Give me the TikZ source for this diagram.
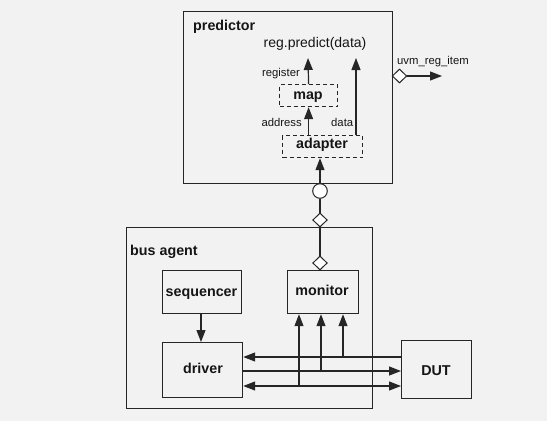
\documentclass[tikz,border=0pt]{standalone}
\usepackage{fontspec}
\setmainfont{Liberation Sans}
\usetikzlibrary{arrows.meta,shapes.geometric}
\definecolor{bg}{HTML}{F2F2F2}
\definecolor{ln}{HTML}{262626}
\definecolor{tx}{HTML}{151515}
\tikzset{
  tri/.tip={Triangle[length=12pt,width=9pt]},
  box/.style={draw=ln,line width=1.2pt,rectangle,inner sep=0pt,anchor=north west,
    font=\fontsize{14.3}{17}\selectfont\bfseries,text=tx},
  dbox/.style={box,dash pattern=on 4pt off 3pt},
  lbl/.style={inner sep=0pt,font=\fontsize{11.3}{13}\selectfont,text=tx},
  ttl/.style={inner sep=0pt,anchor=base west,font=\fontsize{14.3}{17}\selectfont\bfseries,text=tx},
  conn/.style={draw=ln,line width=1.2pt},
  dia/.style={diamond,draw=ln,line width=1pt,fill=white,inner sep=0pt,minimum width=14.6pt,minimum height=14pt},
  circ/.style={circle,draw=ln,line width=1pt,fill=white,inner sep=0pt,minimum size=14.6pt}
}
\begin{document}
\begin{tikzpicture}[x=1pt,y=-1pt]
\fill[bg] (0,0) rectangle (547,421);
\useasboundingbox (0,0) rectangle (547,421);
% predictor
\node[box,minimum width=209pt,minimum height=172pt] (pred) at (183,11) {};
\node[ttl] (predt) at (193,30) {predictor};
\node[inner sep=0pt,anchor=base,font=\fontsize{14}{17}\selectfont,text=tx] (rp) at (315,47.3) {reg.predict(data)};
\coordinate (rpL) at (308,58);
\coordinate (rpR) at (356,58);
\node[dbox,minimum width=58pt,minimum height=22pt] (map) at (279,84) {};
\node[inner sep=0pt,anchor=base,font=\fontsize{14.3}{17}\selectfont\bfseries,text=tx] (mapt) at (308,99) {map};
\node[dbox,minimum width=80pt,minimum height=22pt] (adapter) at (282,135) {};
\node[inner sep=0pt,anchor=base,font=\fontsize{14.3}{17}\selectfont\bfseries,text=tx] (adt) at (322,148) {adapter};
\node[lbl,anchor=base east] (reg) at (300,76.7) {register};
\node[lbl,anchor=base east] (addr) at (302,126.7) {address};
\node[lbl,anchor=base west] (dat) at (331,126.7) {data};
\draw[conn,-tri] (map.north) -- (rpL);
\draw[conn,-tri] (adapter.north -| rpR) -- (rpR);
\draw[conn,-tri] (map.south |- adapter.north) -- (map.south);
% uvm_reg_item
\node[dia] (d3) at (399.5,76) {};
\coordinate (uvmend) at (442,76);
\draw[conn,-tri] (d3.east) -- (uvmend);
\node[lbl,anchor=base west] (uvm) at (397,64) {uvm\_reg\_item};
% connection predictor - bus agent
\node[circ] (c1) at (320,191) {};
\draw[conn,-tri] (c1.north) -- (c1.north |- adapter.south);
\node[dia] (d1) at (320,220) {};
\node[dia] (d2) at (320,263) {};
\draw[conn] (c1.south) -- (d1.north);
\draw[conn] (d1.south) -- (d2.north);
% bus agent
\node[box,minimum width=246pt,minimum height=181pt] (bus) at (126,227) {};
\node[ttl] (bust) at (130,255) {bus agent};
\node[box,minimum width=79pt,minimum height=43pt] (seq) at (162,270) {};
\node[inner sep=0pt,font=\fontsize{14.3}{17}\selectfont\bfseries,text=tx,anchor=base] (seqt) at (201.5,296.7) {sequencer};
\node[box,minimum width=71pt,minimum height=43pt] (mon) at (287,270) {};
\node[inner sep=0pt,font=\fontsize{14.3}{17}\selectfont\bfseries,text=tx,anchor=base] (mont) at (322,295) {monitor};
\node[box,minimum width=80pt,minimum height=55pt] (drv) at (162,342) {};
\node[inner sep=0pt,font=\fontsize{14.3}{17}\selectfont\bfseries,text=tx,anchor=base] (drvt) at (203,373.3) {driver};
\node[box,minimum width=70pt,minimum height=58pt] (dut) at (401,340) {};
\node[inner sep=0pt,font=\fontsize{14.3}{17}\selectfont\bfseries,text=tx,anchor=base] (dutt) at (436,375) {DUT};
\draw[conn,-tri] (seq.south -| 201,0) -- (drv.north -| 201,0);
% buses
\coordinate (y1) at (0,357);
\coordinate (y2) at (0,371);
\coordinate (y3) at (0,386);
\coordinate (t1) at (343,357);
\coordinate (t2) at (321,371);
\coordinate (t3) at (299,386);
\draw[conn,-tri] (dut.west |- y1) -- (drv.east |- y1);
\draw[conn,-tri] (drv.east |- y2) -- (dut.west |- y2);
\draw[conn,tri-tri] (drv.east |- y3) -- (dut.west |- y3);
\draw[conn,-tri] (t1) -- (mon.south -| t1);
\draw[conn,-tri] (t2) -- (mon.south -| t2);
\draw[conn,-tri] (t3) -- (mon.south -| t3);
\end{tikzpicture}
\end{document}
